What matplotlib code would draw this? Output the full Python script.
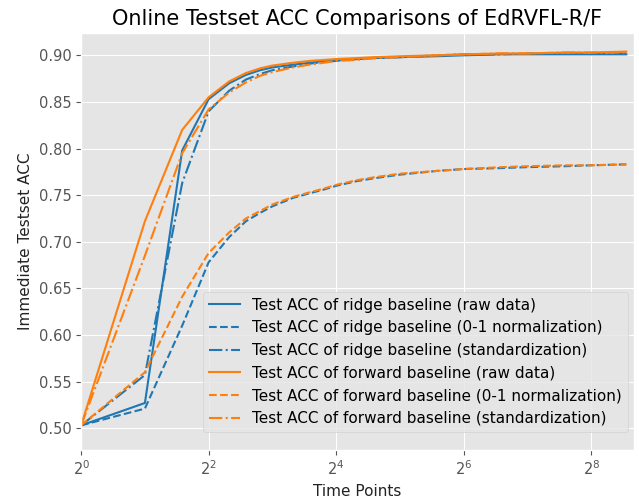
import matplotlib
matplotlib.use("Agg")
import matplotlib.pyplot as plt
from matplotlib.ticker import NullLocator

plt.style.use("ggplot")

time_points = [1, 2, 3, 4, 5, 6, 7, 8, 10, 12, 14, 16, 20, 24, 32, 48, 64, 96, 128, 192, 256, 375]
x_ticks = [1, 4, 16, 64, 256]

ridge_raw = [0.503, 0.527, 0.798, 0.853, 0.870, 0.879, 0.884, 0.887, 0.890, 0.892, 0.894,
             0.895, 0.896, 0.897, 0.898, 0.899, 0.900, 0.901, 0.901, 0.901, 0.901, 0.901]
ridge_norm = [0.503, 0.521, 0.610, 0.678, 0.705, 0.722, 0.731, 0.738, 0.747, 0.752, 0.756,
              0.760, 0.765, 0.768, 0.772, 0.776, 0.778, 0.779, 0.780, 0.781, 0.782, 0.783]
ridge_std = [0.503, 0.557, 0.763, 0.840, 0.862, 0.874, 0.880, 0.884, 0.888, 0.891, 0.893,
             0.894, 0.896, 0.897, 0.898, 0.900, 0.901, 0.901, 0.902, 0.902, 0.902, 0.902]
forward_raw = [0.503, 0.722, 0.820, 0.855, 0.872, 0.881, 0.886, 0.889, 0.892, 0.894, 0.895,
               0.896, 0.897, 0.898, 0.899, 0.900, 0.901, 0.902, 0.902, 0.903, 0.903, 0.904]
forward_norm = [0.503, 0.560, 0.641, 0.688, 0.710, 0.725, 0.733, 0.740, 0.748, 0.753, 0.757,
                0.761, 0.766, 0.769, 0.773, 0.776, 0.778, 0.780, 0.781, 0.782, 0.782, 0.783]
forward_std = [0.503, 0.685, 0.795, 0.842, 0.860, 0.871, 0.878, 0.882, 0.887, 0.890, 0.892,
               0.894, 0.895, 0.897, 0.898, 0.900, 0.901, 0.902, 0.902, 0.903, 0.903, 0.903]

blue = "#1f77b4"
orange = "#ff7f0e"

fig = plt.figure(figsize=(6.39, 4.99), dpi=100)
ax = fig.add_axes([0.127, 0.099, 0.865, 0.835])

ax.plot(time_points, ridge_raw, color=blue, linestyle="-",
        label="Test ACC of ridge baseline (raw data)")
ax.plot(time_points, ridge_norm, color=blue, linestyle="--",
        label="Test ACC of ridge baseline (0-1 normalization)")
ax.plot(time_points, ridge_std, color=blue, linestyle="-.",
        label="Test ACC of ridge baseline (standardization)")
ax.plot(time_points, forward_raw, color=orange, linestyle="-",
        label="Test ACC of forward baseline (raw data)")
ax.plot(time_points, forward_norm, color=orange, linestyle="--",
        label="Test ACC of forward baseline (0-1 normalization)")
ax.plot(time_points, forward_std, color=orange, linestyle="-.",
        label="Test ACC of forward baseline (standardization)")

ax.set_xscale("log", base=2)
ax.set_xticks(x_ticks)
ax.xaxis.set_minor_locator(NullLocator())
ax.set_xlim(1, 2 ** 8.67)
ax.set_ylim(0.477, 0.924)
ax.tick_params(axis="both", labelsize=10.5)

ax.set_title("Online Testset ACC Comparisons of EdRVFL-R/F", fontsize=15)
ax.set_xlabel("Time Points", fontsize=11, color="#222222")
ax.set_ylabel("Immediate Testset ACC", fontsize=11, color="#222222")

ax.legend(loc="lower right", bbox_to_anchor=(0.989, 0.042), borderaxespad=0.0,
          fontsize=11)

fig.savefig("out.png", dpi=100)
